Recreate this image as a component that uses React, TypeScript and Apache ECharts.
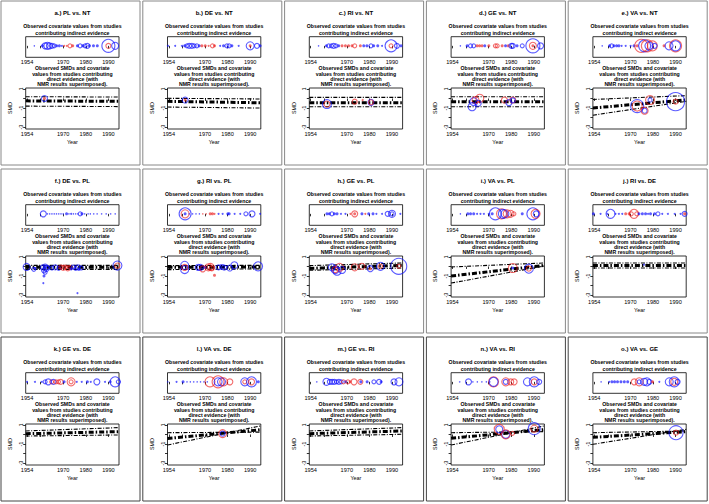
import React, { useEffect, useRef } from 'react';
import * as echarts from 'echarts';

const panelTitles = [
  'a.) PL vs. NT', 'b.) DE vs. NT', 'c.) RI vs. NT', 'd.) GE vs. NT', 'e.) VA vs. NT',
  'f.) DE vs. PL', 'g.) RI vs. PL', 'h.) GE vs. PL', 'i.) VA vs. PL', 'j.) RI vs. DE',
  'k.) GE vs. DE', 'l.) VA vs. DE', 'm.) GE vs. RI', 'n.) VA vs. RI', 'o.) VA vs. GE',
];

const yearTicks = [1954, 1960, 1970, 1980, 1990];
const yearLabels = [1954, 1970, 1980, 1990];
const smdTicks = [1, 0, -1, -2, -3];
const smdLabels = [1, -1, -3];
const lineYears = [1953.4, 1994.7];

// indirect evidence: [year, weight, group]  (b = blue, r = red)
const indA = [[1957.2,1.5,'b'],[1960.8,3,'b'],[1962,6,'b'],[1963,7,'b'],[1963.9,6,'b'],[1965,5,'b'],[1966,4,'b'],[1967.1,3,'b'],[1968.3,3,'b'],[1969.4,2,'b'],[1970.4,2,'r'],[1971.6,2,'r'],[1973,4,'r'],[1974.2,3,'r'],[1976.3,3,'b'],[1977.5,4,'b'],[1978.7,3,'b'],[1979.7,4,'b'],[1980.7,5,'b'],[1981.6,3,'b'],[1983.4,3,'b'],[1985.1,3,'b'],[1990,13,'b'],[1990,5,'r'],[1993,7,'b']];
const indB = [[1953.6,2,'b'],[1956.8,2,'b'],[1959.8,2,'b'],[1961,3,'b'],[1962,4,'b'],[1963,5,'b'],[1964.2,5,'b'],[1965.2,4,'b'],[1966.4,4,'b'],[1967.4,3,'b'],[1968.6,3,'r'],[1970.1,3,'r'],[1971.6,2,'r'],[1973.3,4,'r'],[1974.2,3,'r'],[1976.7,2,'b'],[1978.2,3,'b'],[1979.7,4,'b'],[1980.7,4,'b'],[1981.9,3,'b'],[1984.9,2,'b'],[1990,8,'b'],[1990,3,'r'],[1993,5,'b'],[1994.4,3,'b']];
const indC = [[1957.5,1.5,'b'],[1961,3,'b'],[1962,4,'b'],[1963.2,4,'b'],[1964.2,5,'b'],[1965.2,4,'b'],[1966.4,3,'b'],[1967.9,3,'r'],[1969.4,3,'r'],[1970.8,3,'r'],[1972.3,3,'r'],[1973.5,4,'r'],[1976,3,'r'],[1977.5,3,'b'],[1978.9,3,'b'],[1980.7,4,'b'],[1981.9,3,'b'],[1983.7,3,'b'],[1985.6,2,'b'],[1989.6,12,'b'],[1989.6,4,'r'],[1992.2,5,'b'],[1994,3,'b']];
const indD = [[1957.5,1.5,'b'],[1960.5,3,'b'],[1962,4,'b'],[1963.4,4,'b'],[1964.9,3,'r'],[1966,3,'r'],[1967.1,3,'r'],[1968.3,3,'b'],[1970.1,3,'r'],[1973,4,'r'],[1973.8,4,'r'],[1976,3,'r'],[1977.5,3,'b'],[1978.7,3,'r'],[1980.1,5,'b'],[1980.7,5,'b'],[1982.6,3,'b'],[1984.9,4,'b'],[1989.6,14,'b'],[1989.6,7,'r'],[1989.6,3,'r'],[1993,6,'b']];
const indE = [[1957.5,1.5,'b'],[1960.8,3,'b'],[1961.7,4,'b'],[1962.7,3,'b'],[1963.9,3,'b'],[1964.9,3,'b'],[1966.1,2,'b'],[1967.9,2,'b'],[1970.1,2,'b'],[1971.6,3,'b'],[1973,3,'r'],[1974.8,13,'r'],[1976.3,12,'b'],[1977.5,12,'r'],[1978.2,8,'b'],[1979.7,10,'r'],[1980.7,5,'b'],[1984.9,3,'r'],[1987.1,8,'b'],[1990,12,'r'],[1990,10,'b']];
const indF = [[1961.2,6,'b'],[1963,1.5,'b'],[1964,1.5,'b'],[1965,1.5,'b'],[1966,1.5,'b'],[1967,1.5,'b'],[1968,1.5,'b'],[1969,1.5,'b'],[1970,1.5,'b'],[1971.5,3,'b'],[1972.5,1.5,'b'],[1973.5,2,'b'],[1974.5,1.5,'b'],[1975.5,1.5,'b'],[1976.5,1.5,'b'],[1977.5,4,'b'],[1978.3,3,'b'],[1979.5,1.5,'b'],[1981,1.5,'b'],[1982,1.5,'b'],[1983.5,1.5,'b'],[1985,1.5,'b'],[1987,1.5,'b'],[1989,1.5,'b'],[1991,1.5,'b'],[1993,1.5,'b']];
const indG = [[1961.2,12,'b'],[1961.2,8,'r'],[1961.2,3,'b'],[1963,1.5,'b'],[1964.5,1.5,'b'],[1966,1.5,'b'],[1967.5,1.5,'b'],[1969,1.5,'r'],[1970.5,1.5,'r'],[1972.3,3,'r'],[1973.3,3,'r'],[1974.2,2,'r'],[1976,2,'b'],[1977.8,2,'b'],[1980.1,3,'b'],[1980.7,3,'b'],[1983.1,2,'b'],[1985.6,2,'b'],[1988.1,4,'b'],[1990.8,6,'b'],[1994.4,2,'b']];
const indH = [[1961.2,3,'b'],[1962.3,3,'b'],[1963.4,4,'b'],[1964.5,3,'b'],[1965.7,3,'b'],[1967.4,2,'b'],[1969.4,2,'b'],[1971.6,2,'r'],[1973.5,6,'r'],[1973.5,3,'r'],[1976.7,3,'b'],[1978.2,2,'r'],[1979.7,3,'b'],[1981.6,3,'b'],[1983.1,2,'b'],[1985.6,2,'b'],[1988.1,5,'b'],[1990,7,'b'],[1990,4,'b'],[1993.7,2,'b']];
const indI = [[1957.5,1.5,'b'],[1960.8,3,'b'],[1962,3,'b'],[1963.4,3,'b'],[1964.9,2,'b'],[1966.4,2,'b'],[1967.9,2,'b'],[1970.1,2,'b'],[1971.6,3,'b'],[1973,12,'b'],[1975.7,10,'r'],[1976.3,9,'b'],[1977.2,8,'b'],[1978.2,8,'r'],[1979.7,7,'r'],[1981.2,4,'r'],[1984.9,3,'b'],[1989.6,12,'b'],[1990.8,9,'r'],[1991.1,6,'b']];
const indJ = [[1953.6,3,'b'],[1956.8,2,'b'],[1959.8,2,'b'],[1961.2,9,'b'],[1963.4,2,'b'],[1964.9,2,'b'],[1966.4,2,'b'],[1967.9,3,'r'],[1969.4,3,'r'],[1970.4,4,'r'],[1971.6,9,'r'],[1972.8,4,'r'],[1973.8,3,'b'],[1975.3,3,'b'],[1976.7,3,'b'],[1977.8,2,'b'],[1978.9,3,'b'],[1980.7,3,'b'],[1982.2,4,'b'],[1984.1,2,'b'],[1986.6,2,'b'],[1989.6,2,'b'],[1992.2,2,'b'],[1994,5,'b'],[1994,3,'r']];
const indK = [[1954,2,'b'],[1957.5,2,'b'],[1960.5,2,'b'],[1962,4,'b'],[1963.4,6,'b'],[1964.9,4,'r'],[1965.7,5,'b'],[1966.8,4,'r'],[1967.9,4,'r'],[1968.9,5,'r'],[1970.4,3,'b'],[1973.5,8,'r'],[1973.5,4,'r'],[1976,2,'b'],[1978.2,2,'b'],[1980.7,3,'b'],[1982.2,2,'b'],[1984.9,6,'b'],[1988.5,2,'b'],[1990.8,3,'b'],[1993,10,'b'],[1994.4,4,'b']];
const indL = [[1953.5,1.5,'b'],[1957.4,2,'b'],[1960.3,3,'b'],[1962,1.5,'b'],[1963.5,1.5,'b'],[1965,1.5,'b'],[1966.5,1.5,'b'],[1968,1.5,'b'],[1969.5,1.5,'b'],[1971,1.5,'b'],[1972.2,10,'r'],[1975.8,12,'r'],[1975.8,8,'b'],[1977.3,8,'b'],[1978.3,8,'r'],[1981,6,'r'],[1987.6,8,'b'],[1987.6,4,'r'],[1990.6,10,'b'],[1990.6,6,'r'],[1993.6,3,'b']];
const indM = [[1956.7,1.5,'b'],[1961,7,'b'],[1962.5,5,'b'],[1963.5,5,'b'],[1964.5,5,'b'],[1965.5,4,'b'],[1966.5,5,'b'],[1967.5,4,'b'],[1968.5,4,'r'],[1969.5,3,'b'],[1970.5,4,'r'],[1971.5,3,'r'],[1973.2,6,'r'],[1976,5,'r'],[1976.2,3,'b'],[1979,3,'b'],[1982,4,'b'],[1984.3,5,'b'],[1985.2,3,'b'],[1990.9,6,'b'],[1993.1,8,'b']];
const indN = [[1957.2,1.5,'b'],[1961.1,6,'b'],[1963,1.5,'b'],[1965,1.5,'b'],[1967,1.5,'b'],[1969,1.5,'b'],[1970.5,1.5,'b'],[1972.2,10,'r'],[1972.2,9,'b'],[1977.6,8,'r'],[1977.6,5,'b'],[1979.8,6,'r'],[1981.3,6,'r'],[1987.2,8,'b'],[1990.2,10,'b'],[1990.2,6,'r'],[1992.4,5,'b']];
const indO = [[1957,1.5,'b'],[1960.6,2,'b'],[1961.8,3,'b'],[1963,3,'b'],[1964.3,3,'b'],[1965.8,3,'b'],[1967.3,3,'b'],[1968.8,3,'b'],[1971.7,6,'r'],[1973.9,8,'r'],[1973.9,4,'b'],[1976.1,7,'b'],[1977.3,8,'b'],[1978.4,5,'b'],[1979.8,3,'r'],[1982.8,2,'b'],[1987.2,8,'b'],[1989.4,10,'b'],[1989.4,7,'r'],[1990.9,5,'b']];

// direct evidence: [year, SMD, weight, group]
const dirA = [[1961.7,0.0,6,'b'],[1961.7,0.0,3,'r']];
const dirB = [[1961.2,-0.16,6,'b'],[1961.2,-0.16,3,'r']];
const dirC = [[1961.2,-0.58,9,'b'],[1961.2,-0.58,6,'r'],[1973.5,-0.33,5,'r'],[1977,-0.16,2,'r'],[1980.7,-0.4,6,'b'],[1980.7,-0.4,5,'r']];
const dirD = [[1963.4,-0.33,8,'b'],[1964.2,-0.16,7,'r'],[1966.1,0.02,8,'r'],[1962.7,-0.86,8,'b'],[1965.4,-0.5,6,'b'],[1977,-0.16,6,'r'],[1979,-0.44,6,'b'],[1980.7,-0.16,6,'r'],[1980.7,-0.2,5,'b']];
const dirE = [[1973,-0.79,13,'b'],[1973,-0.79,10,'r'],[1978.7,-0.16,9,'r'],[1978.7,-0.16,4,'b'],[1976.3,-1.28,5,'b'],[1976.3,-1.28,7,'r'],[1990,-0.33,18,'b'],[1990,-0.33,5,'r']];
const dirF = [[1953.8,-0.05,7,'b'],[1957,-0.3,4,'b'],[1957.5,-0.2,3,'b'],[1961,-0.1,5,'b'],[1961.5,-0.4,5,'b'],[1962,0.05,4,'b'],[1962,-0.6,4,'b'],[1961.5,-1.0,3,'b'],[1961.2,-1.75,2,'b'],[1962.5,-0.2,6,'b'],[1963,-0.1,4,'b'],[1965,-0.15,4,'b'],[1966.5,-0.1,5,'b'],[1968,-0.2,4,'b'],[1969,-0.05,4,'r'],[1970,-0.15,5,'r'],[1971,-0.05,4,'r'],[1972,-0.2,5,'r'],[1973,-0.1,4,'r'],[1973.5,-0.25,3,'b'],[1974.5,-0.05,4,'b'],[1975.5,-0.2,4,'b'],[1976.5,-0.1,5,'b'],[1977,-0.3,3,'b'],[1978,-0.15,4,'b'],[1976.3,-2.8,2,'b'],[1994,0.1,9,'b'],[1994,0.1,5,'r']];
const dirG = [[1961,0.12,8,'b'],[1961,-0.33,8,'b'],[1961,-0.1,6,'r'],[1967,-0.09,6,'b'],[1968,-0.09,6,'b'],[1969,-0.25,6,'r'],[1970,-0.1,3,'b'],[1971.5,-0.09,7,'r'],[1972.5,-0.05,7,'r'],[1973,-0.2,5,'r'],[1974.2,-0.93,3,'r'],[1976,-0.09,5,'b'],[1977.5,-0.05,5,'b'],[1978.5,-0.12,5,'b'],[1981,-0.16,6,'b'],[1983,0.12,7,'b'],[1993.5,0.02,9,'b']];
const dirH = [[1963.4,-0.09,7,'b'],[1964.9,-0.33,8,'b'],[1964.9,-0.33,6,'r'],[1965.7,-0.5,8,'b'],[1966.8,-0.09,8,'r'],[1967.9,-0.37,7,'b'],[1973.5,-0.09,7,'r'],[1976.7,0.02,6,'r'],[1980.4,-0.23,6,'b'],[1980.4,-0.23,3,'r'],[1984.9,0.02,8,'b'],[1984.9,0.02,4,'r'],[1993,0.02,16,'b'],[1993,0.02,4,'r']];
const dirI = [[1980.7,-0.16,9,'r'],[1980.7,-0.16,3,'b'],[1987.8,-0.23,9,'b'],[1987.8,-0.23,5,'r']];
const dirJ = [[1976,0.19,2,'b']];
const dirK: any[] = [];
const dirL = [[1977.8,0.09,8,'r'],[1977.8,0.09,5,'b']];
const dirM: any[] = [];
const dirN = [[1974.7,0.54,10,'r'],[1974.7,0.54,7,'b'],[1977.6,0.02,8,'b'],[1977.6,0.02,9,'r'],[1980.6,0.12,4,'r'],[1990.2,0.61,12,'b'],[1990.2,0.61,7,'r']];
const dirO = [[1990.2,0.19,14,'b'],[1990.2,0.19,5,'r']];

// NMR lines: SMD at lineYears[0] and lineYears[1]
const meanStart = [-0.25, -0.3, -0.44, -0.33, -1.0, -0.09, -0.09, -0.2, -1.0, 0.1, 0.08, -0.42, 0.09, -0.4, -0.3];
const meanEnd   = [-0.3, -0.45, -0.44, -0.33, -0.15, -0.09, -0.05, 0.12, 0.12, 0.1, 0.3, 0.5, 0.37, 0.52, 0.3];
const boundAStart = [0.19, 0.02, 0.12, 0.19, -0.1, 0.12, 0.09, 0.09, -0.05, 0.37, 0.37, 0.19, 0.37, 0.19, 0.19];
const boundAEnd   = [0.15, -0.05, 0.12, 0.19, 0.3, 0.12, 0.12, 0.37, 0.37, 0.37, 0.72, 0.25, 0.72, 0.3, 0.37];
const boundBStart = [-0.8, -0.9, -0.86, -0.86, -1.75, -0.3, -0.33, -0.4, -1.74, -0.16, -0.16, -1.1, -0.16, -1.1, -1.03];
const boundBEnd   = [-0.85, -1.0, -0.86, -0.86, -0.3, -0.3, -0.25, -0.16, 0.05, -0.16, -0.05, 0.9, 0.02, 0.9, 0.54];

const indirect = [indA, indB, indC, indD, indE, indF, indG, indH, indI, indJ, indK, indL, indM, indN, indO];
const direct = [dirA, dirB, dirC, dirD, dirE, dirF, dirG, dirH, dirI, dirJ, dirK, dirL, dirM, dirN, dirO];

const BLUE = 'rgba(15,15,255,0.85)';
const RED = 'rgba(235,25,25,0.8)';
const FONT = '"Liberation Sans", Arial, Helvetica, sans-serif';

function pointItem(x: number, y: number, w: number, g: string) {
  const c = g === 'r' ? RED : BLUE;
  const filled = w <= 3.5;
  return {
    value: [x, y],
    symbolSize: w,
    itemStyle: filled
      ? { color: c, borderWidth: 0 }
      : { color: 'rgba(0,0,0,0)', borderColor: c, borderWidth: 1.1 },
  };
}

function buildOption() {
  const PW = 141.8, PH = 168;
  const grids: any[] = [], xAxes: any[] = [], yAxes: any[] = [], series: any[] = [], graphics: any[] = [];
  const xMin = lineYears[0], xMax = lineYears[1];
  const fmt = (v: number) => String(v);
  const xAxisBase = (gi: number) => ({
    type: 'value', gridIndex: gi, min: xMin, max: xMax,
    axisLine: { show: false }, splitLine: { show: false },
    axisTick: { show: true, length: 2.5, customValues: yearTicks, lineStyle: { color: '#000', width: 0.8 } },
    axisLabel: { customValues: yearLabels, fontSize: 5.6, margin: 2, color: '#000', fontFamily: FONT, formatter: fmt },
  });
  for (let i = 0; i < 15; i++) {
    const col = i % 5, row = Math.floor(i / 5);
    const x0 = col * PW, y0 = row * PH;
    const left = x0 + 25.7, width = 93.3;
    const gTop = 2 * i, gBot = 2 * i + 1;
    grids.push({ left, top: y0 + 36.7, width, height: 20.6, show: true, borderColor: '#000', borderWidth: 0.8, backgroundColor: 'transparent' });
    grids.push({ left, top: y0 + 88, width, height: 41, show: true, borderColor: '#000', borderWidth: 0.8, backgroundColor: 'transparent' });
    xAxes.push(xAxisBase(gTop));
    xAxes.push(xAxisBase(gBot));
    yAxes.push({ type: 'value', gridIndex: gTop, min: -1, max: 0.8, show: false });
    yAxes.push({
      type: 'value', gridIndex: gBot, min: -3.2, max: 1.1,
      axisLine: { show: false }, splitLine: { show: false },
      axisTick: { show: true, length: 2.5, customValues: smdTicks, lineStyle: { color: '#000', width: 0.8 } },
      axisLabel: { customValues: smdLabels, rotate: 90, fontSize: 5.6, margin: 2, color: '#000', fontFamily: FONT, formatter: fmt },
    });
    series.push({
      type: 'scatter', xAxisIndex: gTop, yAxisIndex: gTop, symbol: 'circle',
      data: indirect[i].map((p: any) => pointItem(p[0], 0, p[1], p[2])),
    });
    const lineSeries = (a: number, b: number, lw: number, dash: number[]) => ({
      type: 'line', xAxisIndex: gBot, yAxisIndex: gBot, showSymbol: false, symbol: 'none',
      data: [[xMin, a], [xMax, b]],
      lineStyle: { color: '#000', width: lw, type: dash },
    });
    series.push(lineSeries(boundAStart[i], boundAEnd[i], 1.1, [4, 1.5, 1, 1.5]));
    series.push(lineSeries(boundBStart[i], boundBEnd[i], 1.1, [4, 1.5, 1, 1.5]));
    series.push(lineSeries(meanStart[i], meanEnd[i], 3, [5, 2, 1.5, 2]));
    series.push({
      type: 'scatter', xAxisIndex: gBot, yAxisIndex: gBot, symbol: 'circle', z: 5,
      data: direct[i].map((p: any) => pointItem(p[0], p[1], p[2], p[3])),
    });

    const cx = left + width / 2;
    const txt = (x: number, y: number, text: string, size: number, bold: boolean, rot = 0) => ({
      type: 'text', x, y, rotation: rot, silent: true,
      style: { text, fontSize: size, fontWeight: bold ? 'bold' : 'normal', fontFamily: FONT, fill: '#000', align: 'center', verticalAlign: 'middle' },
    });
    graphics.push(txt(cx, y0 + 13, panelTitles[i], 6, true));
    graphics.push(txt(cx, y0 + 26, 'Observed covariate values from studies', 5.2, true));
    graphics.push(txt(cx, y0 + 33.3, 'contributing indirect evidence', 5.2, true));
    graphics.push(txt(cx, y0 + 68.3, 'Observed SMDs and covariate', 5.2, true));
    graphics.push(txt(cx, y0 + 73.5, 'values from studies contributing', 5.2, true));
    graphics.push(txt(cx, y0 + 78.7, 'direct evidence (with', 5.2, true));
    graphics.push(txt(cx, y0 + 84, 'NMR results superimposed).', 5.2, true));
    graphics.push(txt(cx, y0 + 142.3, 'Year', 5.4, false));
    graphics.push(txt(x0 + 10, y0 + 108, 'SMD', 5.4, false, Math.PI / 2));
    graphics.push({
      type: 'rect', silent: true,
      shape: { x: x0 + 1, y: y0 + 1, width: 139, height: 164 },
      style: { fill: 'none', stroke: row === 2 ? '#444' : '#888', lineWidth: 1 },
    });
  }
  return { animation: false, backgroundColor: '#fff', grid: grids, xAxis: xAxes, yAxis: yAxes, series, graphic: graphics };
}

export default function App() {
  const ref = useRef<HTMLDivElement>(null);
  useEffect(() => {
    const chart = echarts.init(ref.current!, null, { renderer: 'svg' });
    chart.setOption(buildOption() as any);
    return () => chart.dispose();
  }, []);
  return <div ref={ref} style={{ position: 'fixed', left: 0, top: 0, width: 709, height: 504, background: '#fff' }} />;
}
